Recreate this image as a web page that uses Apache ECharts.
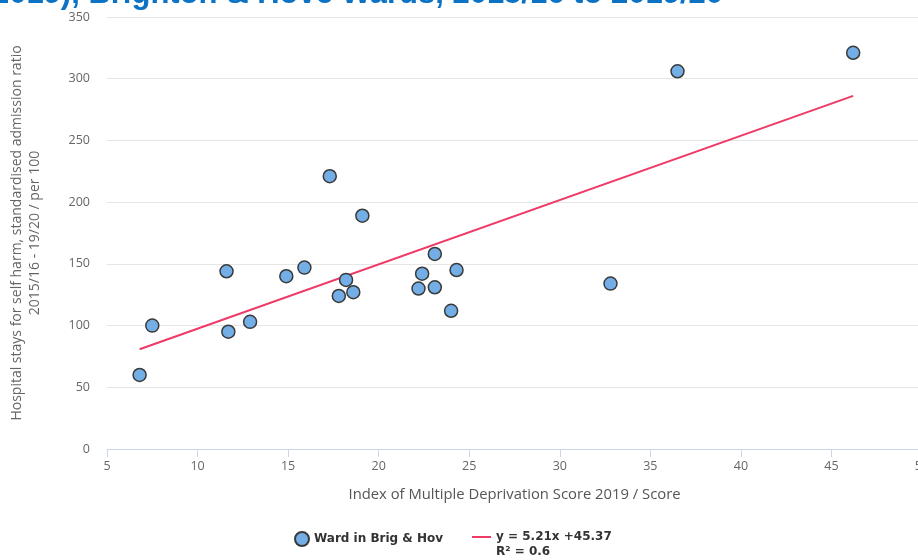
<!DOCTYPE html>
<html>
<head>
<meta charset="utf-8">
<title>Hospital stays for self harm vs IMD</title>
<script src="https://cdn.jsdelivr.net/npm/echarts@6/dist/echarts.min.js"></script>
<style>
  html, body { margin: 0; padding: 0; background: #fff; }
  #main { width: 918px; height: 560px; }
</style>
</head>
<body>
<div id="main"></div>
<script>
// wards: IMD score (x) and self harm admission ratio (y)
var wardScore = [6.8, 7.5, 11.6, 11.7, 12.9, 14.9, 15.9, 17.3, 17.8, 18.2, 18.6, 19.1,
                 22.2, 22.4, 23.1, 23.1, 24.0, 24.3, 32.8, 36.5, 46.2];
var wardRatio = [60, 100, 144, 95, 103, 140, 147, 221, 124, 137, 127, 189,
                 130, 142, 158, 131, 112, 145, 134, 306, 321];
// trend line ends (y = 5.21x + 45.37)
var trendX = [6.8, 46.2];
var trendY = [80.8, 286.1];

var wardName = 'Ward in Brig & Hov';
var trendName = 'y = 5.21x +45.37';

var myChart = echarts.init(document.getElementById('main'));

var wardData = [];
for (var i = 0; i < wardScore.length; i++) {
    wardData.push([wardScore[i], wardRatio[i]]);
}
var trendData = [];
for (var j = 0; j < trendX.length; j++) {
    trendData.push([trendX[j], trendY[j]]);
}

myChart.setOption({
    animation: false,
    grid: {
        left: 107,
        width: 815,
        top: 17,
        bottom: 111,
        outerBoundsMode: 'none'
    },
    legend: [{
        data: [{ name: wardName, icon: 'circle' }],
        left: 294,
        top: 531,
        padding: 0,
        itemWidth: 14,
        itemHeight: 14,
        textStyle: { color: '#333', fontFamily: 'DejaVu Sans', fontWeight: 'bold', fontSize: 12 }
    }, {
        data: [{ name: trendName, icon: 'rect' }],
        left: 472,
        top: 531,
        padding: 0,
        itemWidth: 19,
        itemHeight: 2,
        textStyle: { color: '#333', fontFamily: 'DejaVu Sans', fontWeight: 'bold', fontSize: 12 }
    }],
    graphic: [{
        // chart title, only its lower edge is inside the picture
        type: 'text',
        style: {
            x: 723,
            y: 10,
            align: 'right',
            verticalAlign: 'bottom',
            text: 'Hospital stays for self harm vs Index of Multiple Deprivation (2019), Brighton & Hove Wards, 2015/16 to 2019/20',
            fill: '#0b72c4',
            font: 'bold 31px "Liberation Sans"'
        }
    }, {
        type: 'text',
        left: 496,
        top: 546,
        style: {
            text: 'R² = 0.6',
            fill: '#333',
            font: 'bold 12px "DejaVu Sans"'
        }
    }],
    xAxis: {
        type: 'value',
        min: 5,
        max: 50,
        interval: 5,
        name: 'Index of Multiple Deprivation Score 2019 / Score',
        nameLocation: 'middle',
        nameGap: 38,
        nameTextStyle: { color: '#555', fontFamily: 'Open Sans', fontSize: 14.8 },
        axisLine: { lineStyle: { color: '#ccd6eb', width: 1 } },
        axisTick: { show: true, length: 8, lineStyle: { color: '#ccd6eb' } },
        axisLabel: { color: '#666', fontFamily: 'Open Sans', fontSize: 12.5, margin: 11 },
        splitLine: { show: false }
    },
    yAxis: {
        type: 'value',
        min: 0,
        max: 350,
        interval: 50,
        name: 'Hospital stays for self harm, standardised admission ratio\n2015/16 - 19/20 / per 100',
        nameLocation: 'middle',
        nameGap: 63,
        nameTextStyle: { color: '#666', fontFamily: 'Open Sans', fontSize: 14, lineHeight: 18 },
        axisLine: { show: false },
        axisTick: { show: false },
        axisLabel: { color: '#666', fontFamily: 'Open Sans', fontSize: 12.5, margin: 17 },
        splitLine: { lineStyle: { color: '#e6e6e6' } }
    },
    series: [{
        name: trendName,
        type: 'line',
        data: trendData,
        symbol: 'none',
        lineStyle: { color: '#ef3a67', width: 2 },
        itemStyle: { color: '#ef3a67' },
        z: 2
    }, {
        name: wardName,
        type: 'scatter',
        data: wardData,
        symbolSize: 13,
        itemStyle: { color: '#74aee6', borderColor: '#3a3a3a', borderWidth: 1.5, opacity: 1 },
        z: 3
    }]
});
</script>
</body>
</html>
